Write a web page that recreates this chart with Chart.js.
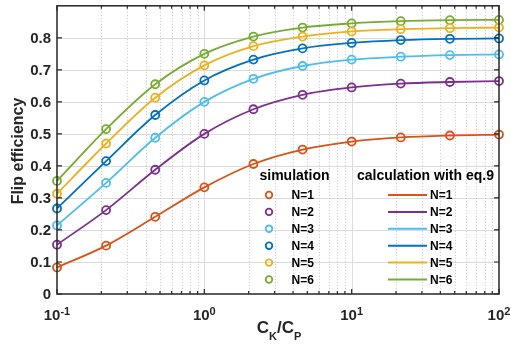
<!DOCTYPE html>
<html>
<head>
<meta charset="utf-8">
<script src="https://cdn.jsdelivr.net/npm/chart.js@4.4.1/dist/chart.umd.min.js"></script>
<style>
  html, body { margin: 0; padding: 0; background: #fff; }
  #wrap { width: 511px; height: 348px; }
</style>
</head>
<body>
<div id="wrap"><canvas id="chart"></canvas></div>
<script>
// C_K/C_P values where the simulation points sit
const ratios = [0.1, 0.2154, 0.4642, 1, 2.154, 4.642, 10, 21.54, 46.42, 100];

// flip efficiency, one array per N
const effN1 = [0.083, 0.151, 0.241, 0.333, 0.406, 0.451, 0.476, 0.489, 0.495, 0.498];
const effN2 = [0.154, 0.262, 0.388, 0.500, 0.577, 0.622, 0.645, 0.657, 0.662, 0.665];
const effN3 = [0.214, 0.347, 0.488, 0.600, 0.672, 0.712, 0.732, 0.741, 0.746, 0.748];
const effN4 = [0.267, 0.415, 0.559, 0.667, 0.732, 0.767, 0.784, 0.793, 0.797, 0.798];
const effN5 = [0.313, 0.470, 0.613, 0.714, 0.774, 0.804, 0.820, 0.827, 0.830, 0.832];
const effN6 = [0.353, 0.515, 0.655, 0.750, 0.804, 0.832, 0.845, 0.852, 0.855, 0.856];

const seriesNames = ["N=1", "N=2", "N=3", "N=4", "N=5", "N=6"];
const seriesColors = ["#D95319", "#7E2F8E", "#4DBEEE", "#0072BD", "#EDB120", "#77AC30"];
const allEff = [effN1, effN2, effN3, effN4, effN5, effN6];

const yTicks = [0, 0.1, 0.2, 0.3, 0.4, 0.5, 0.6, 0.7, 0.8];
const yTickLabels = ["0", "0.1", "0.2", "0.3", "0.4", "0.5", "0.6", "0.7", "0.8"];
const xDecades = [0.1, 1, 10, 100];
const xExponents = ["-1", "0", "1", "2"];

const FONT = "'Liberation Sans', Arial, sans-serif";

function toPoints(values) {
  return ratios.map((r, i) => ({ x: r, y: values[i] }));
}

const lineSets = allEff.map((vals, i) => ({
  label: "calc " + seriesNames[i],
  data: toPoints(vals),
  showLine: true,
  borderColor: seriesColors[i],
  borderWidth: 1.8,
  pointRadius: 0,
  cubicInterpolationMode: "monotone",
  clip: false,
  order: 2
}));

const markerSets = allEff.map((vals, i) => ({
  label: "sim " + seriesNames[i],
  data: toPoints(vals),
  showLine: false,
  borderColor: seriesColors[i],
  backgroundColor: "rgba(0,0,0,0)",
  pointRadius: 4,
  pointBorderWidth: 1.8,
  clip: false,
  order: 1
}));

function minorTicks() {
  const out = [];
  for (let d = 0.1; d < 100; d *= 10) {
    for (let k = 2; k <= 9; k++) out.push(+(d * k).toPrecision(3));
  }
  return out;
}

const matlabLook = {
  id: "matlabLook",
  beforeDatasetsDraw(chart) {
    const { ctx, chartArea: a, scales: { x, y } } = chart;
    ctx.save();
    // horizontal grid
    ctx.strokeStyle = "#dcdcdc";
    ctx.lineWidth = 1;
    yTicks.slice(1).forEach(v => {
      const py = Math.round(y.getPixelForValue(v)) + 0.5;
      ctx.beginPath(); ctx.moveTo(a.left, py); ctx.lineTo(a.right, py); ctx.stroke();
    });
    // vertical major grid
    xDecades.slice(1, -1).forEach(v => {
      const px = Math.round(x.getPixelForValue(v)) + 0.5;
      ctx.beginPath(); ctx.moveTo(px, a.top); ctx.lineTo(px, a.bottom); ctx.stroke();
    });
    // vertical minor grid, dotted
    ctx.strokeStyle = "#c4c4c4";
    ctx.setLineDash([1, 2]);
    minorTicks().forEach(v => {
      const px = Math.round(x.getPixelForValue(v)) + 0.5;
      ctx.beginPath(); ctx.moveTo(px, a.top); ctx.lineTo(px, a.bottom); ctx.stroke();
    });
    ctx.restore();
  },
  afterDatasetsDraw(chart) {
    const { ctx, chartArea: a, scales: { x, y } } = chart;
    ctx.save();
    ctx.strokeStyle = "#262626";
    ctx.fillStyle = "#262626";
    ctx.lineWidth = 1.5;
    ctx.strokeRect(a.left, a.top, a.right - a.left, a.bottom - a.top);

    // tick marks, pointing in
    ctx.lineWidth = 1.2;
    yTicks.forEach(v => {
      const py = y.getPixelForValue(v);
      ctx.beginPath();
      ctx.moveTo(a.left, py); ctx.lineTo(a.left + 5, py);
      ctx.moveTo(a.right, py); ctx.lineTo(a.right - 5, py);
      ctx.stroke();
    });
    xDecades.forEach(v => {
      const px = x.getPixelForValue(v);
      ctx.beginPath();
      ctx.moveTo(px, a.bottom); ctx.lineTo(px, a.bottom - 5);
      ctx.moveTo(px, a.top); ctx.lineTo(px, a.top + 5);
      ctx.stroke();
    });
    minorTicks().forEach(v => {
      const px = x.getPixelForValue(v);
      ctx.beginPath();
      ctx.moveTo(px, a.bottom); ctx.lineTo(px, a.bottom - 3);
      ctx.moveTo(px, a.top); ctx.lineTo(px, a.top + 3);
      ctx.stroke();
    });

    // y tick labels
    ctx.font = "bold 15px " + FONT;
    ctx.textAlign = "right";
    ctx.textBaseline = "middle";
    yTicks.forEach((v, i) => {
      ctx.fillText(yTickLabels[i], a.left - 6, y.getPixelForValue(v) + 1);
    });

    // x tick labels as 10 with a superscript
    ctx.textBaseline = "alphabetic";
    ctx.textAlign = "left";
    xDecades.forEach((v, i) => {
      ctx.font = "bold 15px " + FONT;
      const wBase = ctx.measureText("10").width;
      ctx.font = "bold 11px " + FONT;
      const wExp = ctx.measureText(xExponents[i]).width;
      const start = x.getPixelForValue(v) - (wBase + wExp) / 2;
      ctx.font = "bold 15px " + FONT;
      ctx.fillText("10", start, 320);
      ctx.font = "bold 11px " + FONT;
      ctx.fillText(xExponents[i], start + wBase, 315);
    });

    // x title C_K/C_P
    const parts = [["C", 17, 333], ["K", 11, 340], ["/C", 17, 333], ["P", 11, 340]];
    let total = 0;
    parts.forEach(p => { ctx.font = "bold " + p[1] + "px " + FONT; total += ctx.measureText(p[0]).width; });
    let cx = (a.left + a.right) / 2 - total / 2 + 1;
    parts.forEach(p => {
      ctx.font = "bold " + p[1] + "px " + FONT;
      ctx.fillText(p[0], cx, p[2]);
      cx += ctx.measureText(p[0]).width;
    });

    // y title
    ctx.save();
    ctx.translate(23, 151);
    ctx.rotate(-Math.PI / 2);
    ctx.font = "bold 16px " + FONT;
    ctx.textAlign = "center";
    ctx.fillText("Flip efficiency", 0, 0);
    ctx.restore();

    // legend, two columns, no frame
    ctx.fillStyle = "#000";
    ctx.font = "bold 14px " + FONT;
    ctx.textAlign = "left";
    ctx.fillText("simulation", 259.5, 180);
    ctx.fillText("calculation with eq.9", 357, 180);
    ctx.font = "bold 12px " + FONT;
    ctx.textBaseline = "middle";
    seriesNames.forEach((name, i) => {
      const ry = 195 + i * 16.9;
      ctx.strokeStyle = seriesColors[i];
      ctx.lineWidth = 1.8;
      ctx.beginPath(); ctx.arc(269, ry, 3.3, 0, Math.PI * 2); ctx.stroke();
      ctx.lineWidth = 2;
      ctx.beginPath(); ctx.moveTo(388, ry); ctx.lineTo(427, ry); ctx.stroke();
      ctx.fillStyle = "#000";
      ctx.fillText(name, 291.5, ry + 1);
      ctx.fillText(name, 430, ry + 1);
    });
    ctx.restore();
  }
};

new Chart(document.getElementById("chart"), {
  type: "scatter",
  data: { datasets: [...lineSets, ...markerSets] },
  options: {
    responsive: true,
    maintainAspectRatio: false,
    animation: false,
    layout: { padding: { left: 57, top: 3, right: 12, bottom: 54 } },
    plugins: { legend: { display: false }, tooltip: { enabled: false } },
    scales: {
      x: { type: "logarithmic", min: 0.1, max: 100, display: false },
      y: { type: "linear", min: 0, max: 0.9, display: false }
    }
  },
  plugins: [matlabLook]
});
</script>
</body>
</html>
